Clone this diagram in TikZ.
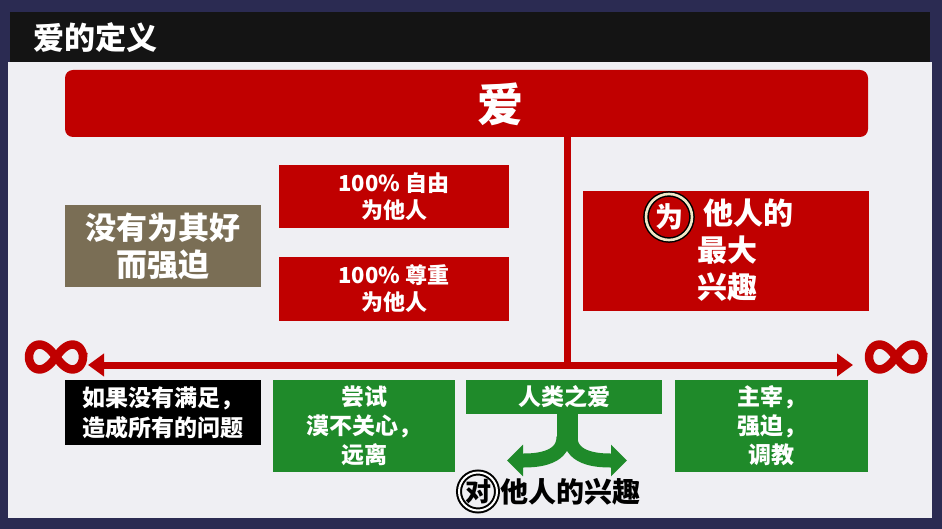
\documentclass[tikz,border=0pt]{standalone}
\usepackage{fontspec}
\setmainfont{Noto Sans CJK SC}
\usetikzlibrary{arrows.meta}
\definecolor{lred}{HTML}{C00000}
\definecolor{lgreen}{HTML}{1F8A2A}
\definecolor{lbrown}{HTML}{7A6E55}
\definecolor{frame}{HTML}{2B2B52}
\definecolor{panel}{HTML}{EFEFF3}
\definecolor{cream}{HTML}{F2E8C8}
\tikzset{
  box/.style={inner sep=0pt, align=center, text=white, font=\bfseries\fontsize{22}{27}\selectfont},
  redbox/.style={box, fill=lred},
  greenbox/.style={box, fill=lgreen, font=\bfseries\fontsize{23}{29}\selectfont},
  infline/.style={lred, line width=8.5pt},
}
\newcommand\infsym[1]{%
  \draw[infline] plot[domain=0:360, samples=90, smooth cycle] ({#1+27*cos(\x)/(1+sin(\x)^2)},{357+1.3*27*sin(\x)*cos(\x)/(1+sin(\x)^2)});}
\begin{document}
\begin{tikzpicture}[x=1pt,y=-1pt]
\useasboundingbox (0,0) rectangle (942,529);
\fill[frame] (0,0) rectangle (942,529);
\fill[panel] (8,62) rectangle (932,518);
\fill[black!92] (10,12) rectangle (930,62);
\node[anchor=west, text=white, font=\bfseries\fontsize{31}{34}\selectfont] (title) at (30,38) {爱的定义};

\node[redbox, minimum width=803pt, minimum height=67pt, rounded corners=8pt] (love) at (466.5,103.5) {};
\node[text=white, font=\bfseries\fontsize{46}{50}\selectfont, inner sep=0pt] (lovet) at (500,104) {爱};

\coordinate (L) at (88,365);
\coordinate (R) at (853,365);
\coordinate (J) at (567,365);
\draw[lred, line width=7pt] (love.south -| J) -- ([yshift=-3pt]J);
\draw[lred, line width=7pt, {Triangle[length=16pt,width=22pt]}-{Triangle[length=16pt,width=22pt]}] (L) -- (R);
\infsym{56}
\infsym{896}

\node[redbox, minimum width=230pt, minimum height=63pt] (free) at (394,196.5) {100\% 自由\\为他人};
\node[redbox, minimum width=230pt, minimum height=64pt] (resp) at (394,289) {100\% 尊重\\为他人};
\node[box, fill=lbrown, minimum width=196pt, minimum height=82pt, font=\bfseries\fontsize{31}{37}\selectfont] (force) at (163,246) {没有为其好\\而强迫};

\node[redbox, minimum width=286pt, minimum height=120pt] (best) at (726,251) {};
\node[anchor=north west, inner sep=0pt, align=left, text=white, font=\bfseries\fontsize{30}{37}\selectfont] (bestt) at (697,199) {\hspace{6pt}他人的\\最大\\兴趣};
\node[circle, fill=lred, draw=black, line width=1.5pt, double=cream, double distance=2.6pt, minimum size=46pt, inner sep=0pt, text=white, font=\bfseries\fontsize{28}{30}\selectfont] (wei) at (669,217) {为};

\node[box, fill=black, minimum width=196pt, minimum height=65pt, font=\bfseries\fontsize{23}{30}\selectfont] (prob) at (163,412.5) {如果没有满足，\\造成所有的问题};
\node[greenbox, minimum width=182pt, minimum height=92pt] (indiff) at (364,426) {尝试\\漠不关心，\\远离};
\node[greenbox, minimum width=196pt, minimum height=34pt] (human) at (564,397) {人类之爱};
\node[greenbox, minimum width=193pt, minimum height=92pt] (dom) at (771.5,426) {主宰，\\强迫，\\调教};

\coordinate (split) at (567,440);
\coordinate (al) at (507,460.5);
\coordinate (ar) at (627,460.5);
\fill[lgreen] ([xshift=-10.5pt]human.south -| split) rectangle ([xshift=10.5pt]split);
\draw[lgreen, line width=14pt, -{Triangle[length=16pt,width=31pt]}] ([xshift=-3.5pt,yshift=3pt]split) to[out=-90,in=0] (al);
\draw[lgreen, line width=14pt, -{Triangle[length=16pt,width=31pt]}] ([xshift=3.5pt,yshift=3pt]split) to[out=-90,in=180] (ar);

\node[anchor=west, inner sep=0pt, font=\bfseries\fontsize{28}{32}\selectfont] (interest) at (500,492) {他人的兴趣};
\node[circle, draw=black, line width=2pt, double=white, double distance=2pt, minimum size=38pt, inner sep=0pt, font=\bfseries\fontsize{26}{30}\selectfont] (dui) at (478,491.5) {对};
\end{tikzpicture}
\end{document}
